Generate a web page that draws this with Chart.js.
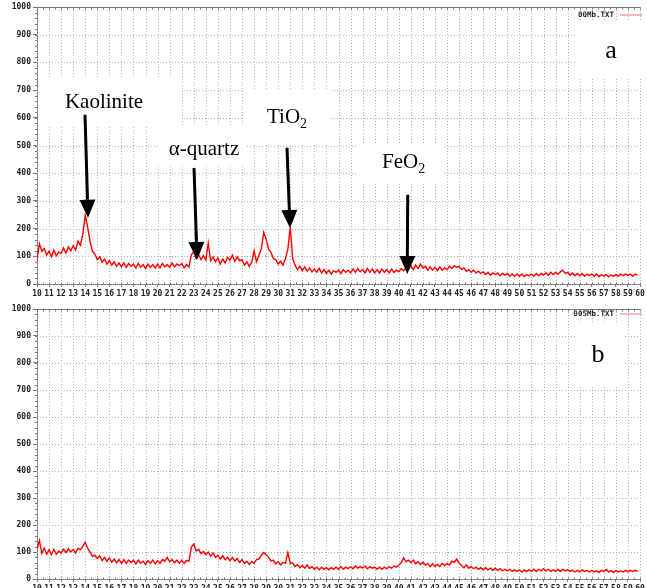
<!DOCTYPE html>
<html>
<head>
<meta charset="utf-8">
<script src="https://cdn.jsdelivr.net/npm/chart.js@4.4.0/dist/chart.umd.min.js"></script>
<style>
    html, body { margin: 0; padding: 0; background: #fff; overflow: hidden; }
    #wrap { position: relative; width: 647px; height: 588px; }
    canvas { position: absolute; left: 0; }
    #chartA { top: 0; }
    #chartB { top: 301px; }
</style>
</head>
<body>
<div id="wrap">
    <canvas id="chartA" width="647" height="300"></canvas>
    <canvas id="chartB" width="647" height="300"></canvas>
</div>
<script>
// 2-theta sampling of both scans (degrees)
var angleStart = 10;
var angleStep = 0.2;

// x and y tick labels
var xTickValues = [10, 11, 12, 13, 14, 15, 16, 17, 18, 19, 20, 21, 22, 23, 24, 25, 26, 27, 28, 29, 30,
    31, 32, 33, 34, 35, 36, 37, 38, 39, 40, 41, 42, 43, 44, 45, 46, 47, 48, 49, 50,
    51, 52, 53, 54, 55, 56, 57, 58, 59, 60];
var yTickValues = [0, 100, 200, 300, 400, 500, 600, 700, 800, 900, 1000];

// counts (a) - one row per degree, 0.2 deg apart
var countsA = [
    85, 145, 118, 128, 105,   // 10
    118, 98, 122, 102, 116,   // 11
    110, 130, 112, 134, 120,  // 12
    138, 122, 155, 140, 180,  // 13
    248, 205, 155, 118, 108,  // 14
    88, 98, 78, 90, 72,       // 15
    84, 68, 80, 64, 76,       // 16
    62, 76, 60, 74, 64,       // 17
    72, 58, 74, 60, 70,       // 18
    56, 72, 60, 70, 58,       // 19
    72, 58, 74, 62, 70,       // 20
    60, 76, 62, 72, 66,       // 21
    74, 58, 70, 62, 105,      // 22
    118, 92, 106, 88, 102,    // 23
    86, 148, 84, 98, 80,      // 24
    94, 72, 90, 76, 96,       // 25
    86, 104, 82, 98, 84,      // 26
    88, 68, 80, 64, 78,       // 27
    120, 80, 104, 126, 186,   // 28
    162, 126, 114, 92, 88,    // 29
    72, 82, 68, 92, 125,      // 30
    205, 92, 68, 52, 64,      // 31
    48, 62, 46, 58, 44,       // 32
    54, 42, 56, 40, 52,       // 33
    38, 50, 36, 48, 42,       // 34
    50, 38, 52, 42, 50,       // 35
    40, 54, 42, 56, 44,       // 36
    52, 40, 56, 42, 54,       // 37
    40, 52, 40, 54, 42,       // 38
    52, 40, 54, 42, 50,       // 39
    44, 56, 48, 60, 54,       // 40
    66, 52, 68, 56, 72,       // 41
    58, 64, 50, 62, 50,       // 42
    60, 48, 62, 50, 58,       // 43
    52, 64, 56, 66, 60,       // 44
    64, 52, 58, 46, 52,       // 45
    42, 50, 40, 46, 38,       // 46
    44, 34, 42, 32, 40,       // 47
    34, 40, 30, 38, 32,       // 48
    38, 28, 36, 28, 36,       // 49
    28, 36, 26, 34, 30,       // 50
    36, 28, 38, 30, 38,       // 51
    32, 40, 32, 42, 34,       // 52
    42, 36, 44, 50, 38,       // 53
    42, 32, 40, 30, 38,       // 54
    30, 38, 28, 36, 30,       // 55
    36, 28, 36, 26, 34,       // 56
    28, 34, 26, 32, 28,       // 57
    34, 28, 36, 30, 36,       // 58
    30, 36, 28, 36, 32        // 59
];

// counts (b)
var countsB = [
    110, 142, 95, 115, 92,    // 10
    108, 90, 110, 92, 104,    // 11
    96, 110, 98, 112, 100,    // 12
    110, 96, 114, 108, 122,   // 13
    136, 114, 100, 84, 88,    // 14
    76, 86, 68, 80, 66,       // 15
    78, 62, 74, 60, 72,       // 16
    58, 72, 58, 70, 60,       // 17
    70, 56, 70, 58, 66,       // 18
    54, 68, 58, 70, 56,       // 19
    68, 58, 72, 66, 80,       // 20
    64, 72, 60, 70, 58,       // 21
    70, 58, 68, 66, 118,      // 22
    130, 104, 110, 94, 102,   // 23
    90, 100, 84, 96, 80,      // 24
    88, 74, 86, 72, 80,       // 25
    68, 80, 66, 76, 62,       // 26
    72, 58, 66, 54, 64,       // 27
    58, 72, 74, 88, 98,       // 28
    90, 80, 66, 70, 56,       // 29
    64, 52, 62, 58, 98,       // 30
    58, 60, 46, 54, 42,       // 31
    50, 40, 52, 40, 46,       // 32
    36, 44, 34, 44, 36,       // 33
    42, 34, 42, 36, 44,       // 34
    36, 46, 36, 44, 38,       // 35
    46, 38, 48, 40, 46,       // 36
    40, 48, 38, 46, 40,       // 37
    44, 36, 44, 36, 44,       // 38
    38, 46, 40, 48, 44,       // 39
    52, 60, 78, 64, 70,       // 40
    60, 70, 56, 64, 54,       // 41
    62, 52, 58, 46, 56,       // 42
    46, 54, 46, 58, 50,       // 43
    58, 52, 66, 62, 74,       // 44
    58, 50, 42, 52, 40,       // 45
    46, 38, 44, 36, 42,       // 46
    34, 42, 34, 40, 32,       // 47
    40, 32, 38, 30, 36,       // 48
    30, 36, 28, 34, 28,       // 49
    34, 26, 34, 28, 34,       // 50
    28, 36, 28, 36, 30,       // 51
    38, 30, 36, 28, 34,       // 52
    28, 36, 28, 36, 30,       // 53
    34, 28, 32, 26, 32,       // 54
    26, 34, 28, 32, 26,       // 55
    32, 26, 30, 24, 32,       // 56
    28, 36, 26, 32, 24,       // 57
    32, 26, 30, 26, 32,       // 58
    26, 32, 28, 32, 28        // 59
];

var tickFont = { family: 'DejaVu Sans Mono', size: 8, weight: 'bold' };

var panels = [
    {
        canvasId: 'chartA', counts: countsA, fileName: '00Mb.TXT', letter: 'a',
        padTop: 7, padBottom: 0,
        legendY: 15, letterPos: [611, 58],
        // white patches pasted over the grid
        boxes: [[40, 78, 182, 125], [158, 125, 245, 165], [243, 90, 330, 145], [357, 143, 443, 183], [577, 22, 642, 77]],
        labels: [
            { text: 'Kaolinite', x: 104, y: 108, align: 'center' },
            { text: '\u03b1-quartz', x: 204, y: 155, align: 'center' },
            { text: 'TiO', sub: '2', x: 267, y: 123, align: 'left' },
            { text: 'FeO', sub: '2', x: 382, y: 168, align: 'left' }
        ],
        // arrows in data space: [angle, counts] -> [angle, counts]
        arrows: [
            [[13.98, 611], [14.23, 239]],
            [[23.02, 419], [23.27, 87]],
            [[30.73, 492], [30.98, 202]],
            [[40.74, 322], [40.70, 36]]
        ]
    },
    {
        canvasId: 'chartB', counts: countsB, fileName: '005Mb.TXT', letter: 'b',
        padTop: 8, padBottom: 6,
        legendY: 13, letterPos: [598, 61],
        boxes: [[577, 22, 625, 84]],
        labels: [],
        arrows: []
    }
];

function drawArrow(ctx, x1, y1, x2, y2) {
    var ang = Math.atan2(y2 - y1, x2 - x1);
    var headLen = 18, headHalf = 8;
    var bx = x2 - headLen * Math.cos(ang);
    var by = y2 - headLen * Math.sin(ang);
    ctx.strokeStyle = '#000';
    ctx.fillStyle = '#000';
    ctx.lineWidth = 3;
    ctx.beginPath();
    ctx.moveTo(x1, y1);
    ctx.lineTo(bx, by);
    ctx.stroke();
    ctx.beginPath();
    ctx.moveTo(x2, y2);
    ctx.lineTo(bx + headHalf * Math.sin(ang), by - headHalf * Math.cos(ang));
    ctx.lineTo(bx - headHalf * Math.sin(ang), by + headHalf * Math.cos(ang));
    ctx.closePath();
    ctx.fill();
}

function makeDecor(panel) {
    return {
        id: 'decor' + panel.letter,
        beforeDatasetsDraw: function (chart) {
            var ctx = chart.ctx, area = chart.chartArea;
            var xs = chart.scales.x, ys = chart.scales.y;
            ctx.save();
            // dotted grid
            ctx.strokeStyle = '#b0b0b0';
            ctx.lineWidth = 1;
            ctx.setLineDash([1, 2]);
            xTickValues.forEach(function (v) {
                var px = Math.round(xs.getPixelForValue(v)) + 0.5;
                ctx.beginPath();
                ctx.moveTo(px, area.top);
                ctx.lineTo(px, area.bottom);
                ctx.stroke();
            });
            yTickValues.forEach(function (v) {
                var py = Math.round(ys.getPixelForValue(v)) + 0.5;
                ctx.beginPath();
                ctx.moveTo(area.left, py);
                ctx.lineTo(area.right, py);
                ctx.stroke();
            });
            ctx.setLineDash([]);

            // pasted white boxes
            ctx.fillStyle = '#fff';
            panel.boxes.forEach(function (b) {
                ctx.fillRect(b[0], b[1], b[2] - b[0], b[3] - b[1]);
            });

            // top frame line with ruler ticks
            ctx.strokeStyle = '#777';
            var top = Math.round(area.top) + 0.5;
            var bottom = Math.round(area.bottom) + 0.5;
            ctx.beginPath();
            ctx.moveTo(area.left, top);
            ctx.lineTo(area.right, top);
            ctx.stroke();
            for (var a = 10; a <= 60; a += 0.5) {
                var px = Math.round(xs.getPixelForValue(a)) + 0.5;
                ctx.beginPath();
                ctx.moveTo(px, top);
                ctx.lineTo(px, top + 2);
                ctx.moveTo(px, bottom);
                ctx.lineTo(px, bottom - 2);
                ctx.stroke();
            }
            for (var c = 0; c <= 1000; c += 20) {
                var py = Math.round(ys.getPixelForValue(c)) + 0.5;
                ctx.beginPath();
                ctx.moveTo(area.left, py);
                ctx.lineTo(area.left - 2, py);
                ctx.stroke();
            }
            ctx.restore();
        },
        afterDatasetsDraw: function (chart) {
            var ctx = chart.ctx;
            var xs = chart.scales.x, ys = chart.scales.y;
            ctx.save();

            // file legend
            ctx.font = 'bold 7.5px "DejaVu Sans Mono"';
            ctx.fillStyle = '#222';
            ctx.textAlign = 'right';
            ctx.textBaseline = 'middle';
            ctx.fillText(panel.fileName, 614, panel.legendY);
            ctx.strokeStyle = '#f4a0a0';
            ctx.lineWidth = 1.5;
            ctx.beginPath();
            ctx.moveTo(620, panel.legendY);
            ctx.lineTo(642, panel.legendY);
            ctx.stroke();

            // panel letter
            ctx.fillStyle = '#000';
            ctx.font = '26px "Liberation Serif"';
            ctx.textAlign = 'center';
            ctx.textBaseline = 'alphabetic';
            ctx.fillText(panel.letter, panel.letterPos[0], panel.letterPos[1]);

            // phase labels
            panel.labels.forEach(function (lab) {
                ctx.font = '21px "Liberation Serif"';
                ctx.textAlign = lab.align;
                ctx.fillText(lab.text, lab.x, lab.y);
                if (lab.sub) {
                    var w = ctx.measureText(lab.text).width;
                    ctx.font = '14px "Liberation Serif"';
                    ctx.textAlign = 'left';
                    ctx.fillText(lab.sub, lab.x + w, lab.y + 5);
                }
            });

            panel.arrows.forEach(function (ar) {
                drawArrow(ctx,
                    xs.getPixelForValue(ar[0][0]), ys.getPixelForValue(ar[0][1]),
                    xs.getPixelForValue(ar[1][0]), ys.getPixelForValue(ar[1][1]));
            });
            ctx.restore();
        }
    };
}

panels.forEach(function (panel) {
    var points = panel.counts.map(function (v, i) {
        return { x: Math.round((angleStart + i * angleStep) * 10) / 10, y: v };
    });
    var canvas = document.getElementById(panel.canvasId);
    new Chart(canvas, {
        type: 'line',
        data: {
            datasets: [{
                data: points,
                borderColor: '#ff0000',
                borderWidth: 1.4,
                pointRadius: 0,
                tension: 0,
                fill: false
            }]
        },
        options: {
            responsive: false,
            animation: false,
            devicePixelRatio: 1,
            layout: { padding: { top: panel.padTop, right: 7, bottom: panel.padBottom, left: 0 } },
            plugins: { legend: { display: false }, tooltip: { enabled: false } },
            scales: {
                x: {
                    type: 'linear', min: 10, max: 60,
                    afterBuildTicks: function (s) { s.ticks = xTickValues.map(function (v) { return { value: v }; }); },
                    afterFit: function (s) { s.height = 16; },
                    grid: { drawOnChartArea: false, tickLength: 3, color: '#777' },
                    border: { color: '#777' },
                    ticks: { font: tickFont, color: '#222', padding: 2, maxRotation: 0, autoSkip: false,
                        callback: function (v) { return String(v); } }
                },
                y: {
                    min: 0, max: 1000,
                    afterBuildTicks: function (s) { s.ticks = yTickValues.map(function (v) { return { value: v }; }); },
                    afterFit: function (s) { s.width = 37; },
                    grid: { drawOnChartArea: false, tickLength: 4, color: '#777' },
                    border: { color: '#777' },
                    ticks: { font: tickFont, color: '#222', padding: 2, autoSkip: false,
                        callback: function (v) { return String(v); } }
                }
            }
        },
        plugins: [makeDecor(panel)]
    });
});
</script>
</body>
</html>
